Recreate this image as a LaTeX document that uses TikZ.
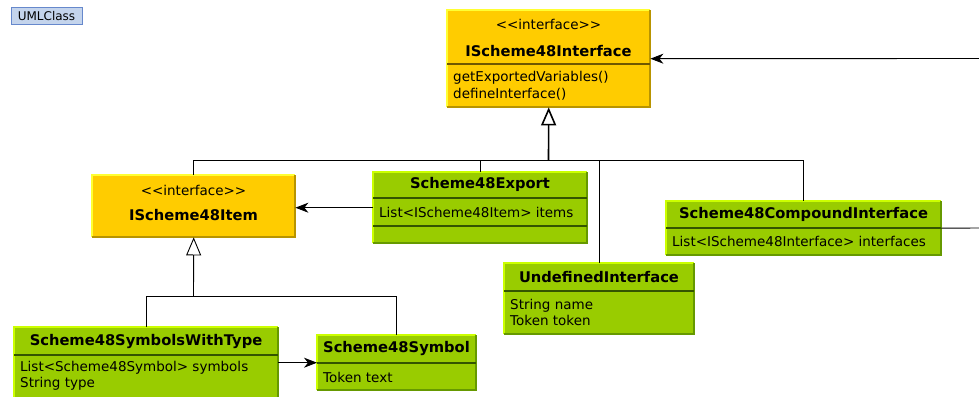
\documentclass[tikz,border=0pt]{standalone}
\usepackage{fontspec}
\setmainfont{DejaVu Sans}
\usetikzlibrary{arrows.meta,positioning}
\definecolor{ifcfill}{HTML}{FFCC00}
\definecolor{ifclight}{HTML}{FFFF33}
\definecolor{ifcdark}{HTML}{B89400}
\definecolor{ifcline}{HTML}{705800}
\definecolor{clsfill}{HTML}{99CC00}
\definecolor{clslight}{HTML}{CCFF00}
\definecolor{clsdark}{HTML}{669900}
\definecolor{clsline}{HTML}{335500}
\definecolor{tagfill}{HTML}{C4D4EC}
\definecolor{tagline}{HTML}{6688CC}
\newcommand{\bevel}[3]{%
  \draw[line width=2pt,#2] (#1.south west) |- (#1.north east);
  \draw[line width=2pt,#3] (#1.north east) |- (#1.south west);}
\begin{document}
\begin{tikzpicture}[x=1pt, y=-1pt,
  ifc/.style={fill=ifcfill, inner sep=0pt, anchor=north west},
  cls/.style={fill=clsfill, inner sep=0pt, anchor=north west},
  title/.style={font=\fontsize{14.7}{16}\selectfont\bfseries},
  stereo/.style={font=\fontsize{13.5}{16}\selectfont},
  attr/.style={font=\fontsize{13.5}{15.5}\selectfont, align=left, anchor=west, inner sep=0pt},
  tag/.style={draw=tagline, fill=tagfill, line width=1pt, inner sep=0pt,
    minimum width=71pt, minimum height=17pt, font=\fontsize{12}{14}\selectfont},
  conn/.style={draw=black, line width=0.9pt},
  gen/.style={conn, -{Triangle[open, length=18pt, width=15pt, fill=white]}},
  nav/.style={conn, -{Stealth[length=13pt, width=10pt, inset=4pt]}}]
\useasboundingbox (0,0) rectangle (979,396);

\node[tag] (tag) at (46.5,16.5) {UMLClass};

% interfaces
\node[ifc, minimum width=203pt, minimum height=97pt] (schemeifc) at (447,10) {};
\bevel{schemeifc}{ifclight}{ifcdark}
\draw[ifcline, line width=1.2pt] (schemeifc.west |- 0,64) -- (schemeifc.east |- 0,64);
\node[stereo] at (548.5,24) {<{}<interface>{}>};
\node[title] at (548.5,51) {IScheme48Interface};
\node[attr, font=\fontsize{13.5}{16.5}\selectfont] at (453,86) {getExportedVariables()\\defineInterface()};

\node[ifc, minimum width=203pt, minimum height=62pt] (item) at (92,175) {};
\bevel{item}{ifclight}{ifcdark}
\node[stereo] at (193.5,190) {<{}<interface>{}>};
\node[title] at (193.5,215) {IScheme48Item};

% classes
\node[cls, minimum width=214pt, minimum height=71pt] (export) at (373,172) {};
\bevel{export}{clslight}{clsdark}
\draw[clsline, line width=1.2pt] (export.west |- 0,198) -- (export.east |- 0,198);
\draw[clsline, line width=1.2pt] (export.west |- 0,226) -- (export.east |- 0,226);
\node[title] at (480,184) {Scheme48Export};
\node[attr] at (379,212) {List<IScheme48Item> items};

\node[cls, minimum width=275pt, minimum height=54pt] (compound) at (666,201) {};
\bevel{compound}{clslight}{clsdark}
\draw[clsline, line width=1.2pt] (compound.west |- 0,228) -- (compound.east |- 0,228);
\node[title] at (803.5,214) {Scheme48CompoundInterface};
\node[attr] at (672,241) {List<IScheme48Interface> interfaces};

\node[cls, minimum width=190pt, minimum height=71pt] (undef) at (504,263) {};
\bevel{undef}{clslight}{clsdark}
\draw[clsline, line width=1.2pt] (undef.west |- 0,291) -- (undef.east |- 0,291);
\node[title] at (599,277) {UndefinedInterface};
\node[attr] at (510,312.5) {String name\\Token token};

\node[cls, minimum width=264pt, minimum height=75pt] (symtype) at (14,327) {};
\bevel{symtype}{clslight}{clsdark}
\draw[clsline, line width=1.2pt] (symtype.west |- 0,355) -- (symtype.east |- 0,355);
\node[title] at (146,341) {Scheme48SymbolsWithType};
\node[attr] at (20,376) {List<Scheme48Symbol> symbols\\String type};

\node[cls, minimum width=159pt, minimum height=55pt] (symbol) at (317,335) {};
\bevel{symbol}{clslight}{clsdark}
\draw[clsline, line width=1.2pt] (symbol.west |- 0,363) -- (symbol.east |- 0,363);
\node[title] at (396.5,348) {Scheme48Symbol};
\node[attr] at (323,377) {Token text};

% generalisation to IScheme48Interface
\coordinate (hub) at (548.5,160);
\draw[conn] (item.north) |- (compound.north |- hub) -- (compound.north);
\draw[conn] (export.north) -- (export.north |- hub);
\draw[conn] (undef.north) -- (undef.north |- hub);
\draw[gen, line width=1.6pt] (hub) -- (schemeifc.south);

% generalisation to IScheme48Item
\coordinate (hubitem) at (193.5,296);
\draw[conn] (symtype.north) |- (symbol.north |- hubitem) -- (symbol.north);
\draw[gen] (hubitem) -- (item.south);

% associations
\draw[nav] (export.west) -- (item.east |- export.west);
\draw[nav] (symtype.east |- symbol.west) -- (symbol.west);
\coordinate (offifc) at (979,58.5);
\coordinate (offcomp) at (979,228);
\draw[nav] (offifc) -- (schemeifc.east);
\draw[conn] (compound.east) -- (offcomp);
\end{tikzpicture}
\end{document}
